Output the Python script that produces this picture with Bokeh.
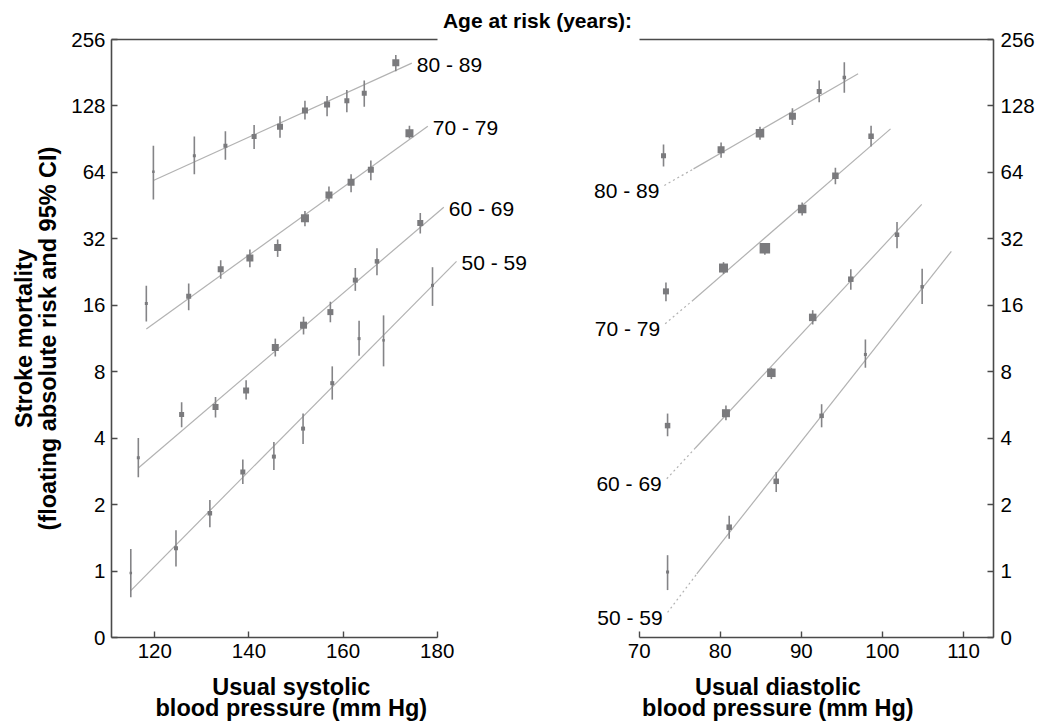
import math
from bokeh.plotting import figure
from bokeh.models import Range1d, LinearAxis, LogAxis, FixedTicker, Label
from bokeh.embed import file_html
from bokeh.resources import INLINE
from bokeh.core.properties import value

# ---------------- data ----------------
age_groups = ["50 - 59", "60 - 69", "70 - 79", "80 - 89"]

y_ticks = [0.5, 1, 2, 4, 8, 16, 32, 64, 128, 256]
y_tick_labels = ["0", "1", "2", "4", "8", "16", "32", "64", "128", "256"]
sys_ticks = [120, 140, 160, 180]
dia_ticks = [70, 80, 90, 100, 110]

# systolic panel
sys50_x = [114.9, 124.5, 131.7, 138.7, 145.3, 151.5, 157.7, 163.4, 168.6, 179.0]
sys50_risk = [0.98, 1.27, 1.83, 2.81, 3.30, 4.42, 7.10, 11.3, 11.1, 19.7]
sys50_lo = [0.76, 1.05, 1.58, 2.48, 2.87, 3.76, 5.98, 9.45, 8.46, 15.9]
sys50_hi = [1.26, 1.53, 2.10, 3.20, 3.84, 5.17, 8.46, 13.6, 14.4, 23.8]
sys50_box = [2.5, 4, 4.5, 5, 4, 4, 4, 3, 2.5, 3]

sys60_x = [116.5, 125.7, 132.9, 139.4, 145.6, 151.6, 157.3, 162.6, 167.2, 176.4]
sys60_risk = [3.26, 5.12, 5.53, 6.58, 10.3, 13.0, 14.9, 20.8, 25.3, 37.7]
sys60_lo = [2.66, 4.48, 4.96, 5.98, 9.38, 11.8, 13.4, 18.6, 21.9, 33.8]
sys60_hi = [4.01, 5.82, 6.15, 7.31, 11.3, 14.2, 16.6, 23.6, 29.0, 41.9]
sys60_box = [3, 5, 6, 6, 7, 7, 6, 5, 4.5, 6]

sys70_x = [118.2, 127.2, 134.0, 140.2, 146.1, 151.9, 157.0, 161.7, 165.9, 174.1]
sys70_risk = [16.3, 17.6, 23.3, 26.2, 29.2, 39.7, 50.6, 57.7, 65.8, 96.3]
sys70_lo = [13.5, 15.2, 21.1, 23.8, 26.5, 36.5, 47.2, 52.0, 58.9, 91.1]
sys70_hi = [19.6, 20.1, 25.6, 28.6, 31.8, 42.8, 55.3, 62.7, 72.5, 104]
sys70_box = [3, 5, 6, 7, 7, 8, 7, 7, 6, 8]

sys80_x = [119.7, 128.4, 135.0, 141.1, 146.6, 151.9, 156.6, 160.8, 164.5, 171.2]
sys80_risk = [64.4, 76.1, 84.4, 93.0, 103, 122, 130, 135, 146, 201]
sys80_lo = [48.2, 62.7, 73.0, 81.6, 91.8, 111, 115, 120, 127, 184]
sys80_hi = [84.4, 93.1, 98.4, 105, 115, 135, 142, 151, 167, 218]
sys80_box = [2.5, 3, 4, 5, 6, 6, 6, 5, 5, 7]

# fitted lines (start / end) per age group, systolic
sys_fit_x0 = [114.9, 116.5, 118.2, 119.7]
sys_fit_y0 = [0.816, 2.93, 12.5, 58.8]
sys_fit_x1 = [184.1, 181.4, 178.0, 174.6]
sys_fit_y1 = [25.3, 44.5, 103.6, 200]

# diastolic panel
dia50_x = [73.5, 81.1, 86.9, 92.5, 97.9, 104.9]
dia50_risk = [0.99, 1.58, 2.55, 5.05, 9.58, 19.4]
dia50_lo = [0.82, 1.40, 2.28, 4.48, 8.34, 16.2]
dia50_hi = [1.18, 1.78, 2.81, 5.70, 11.2, 23.4]
dia50_box = [3, 5.5, 5.5, 4.5, 3, 3.5]

dia60_x = [73.5, 80.7, 86.3, 91.4, 96.1, 101.8]
dia60_risk = [4.56, 5.19, 7.91, 14.1, 21.0, 33.4]
dia60_lo = [4.08, 4.82, 7.41, 13.1, 18.8, 29.0]
dia60_hi = [5.17, 5.62, 8.34, 15.2, 23.3, 38.1]
dia60_box = [5.5, 8, 8.5, 7.5, 5.5, 4.5]

dia70_x = [73.3, 80.4, 85.5, 90.1, 94.2, 98.6]
dia70_risk = [18.5, 23.6, 29.0, 43.7, 61.8, 93.4]
dia70_lo = [16.7, 22.2, 27.1, 40.8, 56.5, 83.9]
dia70_hi = [20.3, 25.1, 30.5, 46.8, 67.2, 104]
dia70_box = [6, 9, 10.5, 8.5, 6.5, 5.5]

dia80_x = [73.0, 80.1, 84.9, 88.9, 92.2, 95.3]
dia80_risk = [76.1, 81.0, 96.3, 115, 149, 172]
dia80_lo = [68.1, 74.5, 89.9, 105, 133, 147]
dia80_hi = [85.6, 87.4, 103, 125, 167, 202]
dia80_box = [5, 7, 8.5, 7, 5, 3.5]

# fitted lines, diastolic: dashed start -> solid start -> end
dia_fit_x0 = [73.5, 73.4, 73.2, 73.1]
dia_fit_y0 = [0.65, 2.62, 13.2, 55.8]
dia_fit_xm = [77.1, 76.9, 76.5, 76.7]
dia_fit_ym = [0.97, 3.60, 16.7, 66.4]
dia_fit_x1 = [108.5, 104.85, 101.0, 97.0]
dia_fit_y1 = [28.1, 45.8, 100.8, 179]

# ---------------- layout / style ----------------
W, H = 1038, 721
# pixel geometry of the two panels (frame covers the whole canvas)
SYS_REF_PX, SYS_REF_V, SYS_PX = 154.3, 120.0, 4.707    # px of 120 mmHg, px per mmHg
DIA_REF_PX, DIA_REF_V, DIA_PX = 638.7, 70.0, 8.1075     # px of 70 mmHg
Y_TOP_PX, Y_BOT_PX = 39.0, 637.0                        # px of 256 and of "0"
PX_PER_DOUBLING = (Y_BOT_PX - Y_TOP_PX) / 9.0


def sys_at(px):
    return SYS_REF_V + (px - SYS_REF_PX) / SYS_PX


def dia_at(px):
    return DIA_REF_V + (px - DIA_REF_PX) / DIA_PX


def y_at(py):
    return 256 * 2 ** ((Y_TOP_PX - py) / PX_PER_DOUBLING)


SYS_LEFT = sys_at(111)       # left panel axis origin
DIA_RIGHT = dia_at(993)      # right panel y-axis position

FONT = "Liberation Sans"
AX = "#4a4a4a"
MARK = "#7a7a7d"
ERR = "#848487"
FIT = "#b2b2b2"

p = figure(width=W, height=H, output_backend="svg", toolbar_location=None,
           x_range=Range1d(sys_at(0), sys_at(W)), y_range=Range1d(y_at(H), y_at(0)),
           y_axis_type="log", x_axis_location=None, y_axis_location=None,
           min_border=0, min_border_left=0, min_border_right=0,
           min_border_top=0, min_border_bottom=0)
p.extra_x_ranges = {"dia": Range1d(dia_at(0), dia_at(W))}
p.grid.visible = False
p.outline_line_color = None
p.background_fill_color = "white"
p.border_fill_color = "white"

overrides = {float(t): l for t, l in zip(y_ticks, y_tick_labels)}


def style(ax, standoff):
    ax.axis_line_color = AX
    ax.axis_line_width = 1.6
    ax.major_tick_line_color = AX
    ax.major_tick_line_width = 1.4
    ax.major_tick_in = 6
    ax.major_tick_out = 0
    ax.minor_tick_line_color = None
    ax.major_label_text_font = FONT
    ax.major_label_text_font_size = "20.5px"
    ax.major_label_text_color = "black"
    ax.major_label_standoff = standoff


ly = LogAxis(ticker=FixedTicker(ticks=y_ticks), major_label_overrides=overrides,
             bounds=(0.5, 256), fixed_location=SYS_LEFT)
style(ly, 6)
p.add_layout(ly, "left")

ry = LogAxis(ticker=FixedTicker(ticks=y_ticks), major_label_overrides=overrides,
             bounds=(0.5, 256), fixed_location=DIA_RIGHT, x_range_name="dia")
style(ry, 7)
p.add_layout(ry, "right")

bx = LinearAxis(ticker=FixedTicker(ticks=sys_ticks), bounds=(SYS_LEFT, 180),
                fixed_location=0.5)
style(bx, 6)
p.add_layout(bx, "below")

dx = LinearAxis(x_range_name="dia", ticker=FixedTicker(ticks=dia_ticks),
                bounds=(70, DIA_RIGHT), fixed_location=0.5)
style(dx, 6)
p.add_layout(dx, "below")

for rng, bnd in ((None, (SYS_LEFT, 180)), ("dia", (70, DIA_RIGHT))):
    kw = {"x_range_name": rng} if rng else {}
    top = LinearAxis(ticker=FixedTicker(ticks=[]), bounds=bnd, fixed_location=256, **kw)
    top.axis_line_color = AX
    top.axis_line_width = 1.6
    top.major_tick_line_color = None
    top.minor_tick_line_color = None
    top.major_label_text_font_size = "0px"
    p.add_layout(top, "above")

# ---------------- systolic marks ----------------
sys_series = [
    (sys50_x, sys50_risk, sys50_lo, sys50_hi, sys50_box),
    (sys60_x, sys60_risk, sys60_lo, sys60_hi, sys60_box),
    (sys70_x, sys70_risk, sys70_lo, sys70_hi, sys70_box),
    (sys80_x, sys80_risk, sys80_lo, sys80_hi, sys80_box),
]
for i, (xs, rs, lo, hi, bx_) in enumerate(sys_series):
    p.line([sys_fit_x0[i], sys_fit_x1[i]], [sys_fit_y0[i], sys_fit_y1[i]],
           line_color=FIT, line_width=1.2)
    p.segment(x0=xs, y0=lo, x1=xs, y1=hi, line_color=ERR, line_width=1.6)
    p.scatter(x=xs, y=rs, size=bx_, marker="square", fill_color=MARK, line_color=None)
    p.text(x=[sys_fit_x1[i]], y=[sys_fit_y1[i]], text=[age_groups[i]],
           text_font=value(FONT), text_font_size="21px", text_color="black",
           text_baseline="middle", text_align="left", x_offset=5, y_offset=1)

# ---------------- diastolic marks ----------------
dia_series = [
    (dia50_x, dia50_risk, dia50_lo, dia50_hi, dia50_box),
    (dia60_x, dia60_risk, dia60_lo, dia60_hi, dia60_box),
    (dia70_x, dia70_risk, dia70_lo, dia70_hi, dia70_box),
    (dia80_x, dia80_risk, dia80_lo, dia80_hi, dia80_box),
]
for i, (xs, rs, lo, hi, bx_) in enumerate(dia_series):
    p.line([dia_fit_x0[i], dia_fit_xm[i]], [dia_fit_y0[i], dia_fit_ym[i]],
           line_color=FIT, line_width=1.2, line_dash="2 3", x_range_name="dia")
    p.line([dia_fit_xm[i], dia_fit_x1[i]], [dia_fit_ym[i], dia_fit_y1[i]],
           line_color=FIT, line_width=1.2, x_range_name="dia")
    p.segment(x0=xs, y0=lo, x1=xs, y1=hi, line_color=ERR, line_width=1.6,
              x_range_name="dia")
    p.scatter(x=xs, y=rs, size=bx_, marker="square", fill_color=MARK,
              line_color=None, x_range_name="dia")
    p.text(x=[dia_fit_x0[i]], y=[dia_fit_y0[i]], text=[age_groups[i]],
           text_font=value(FONT), text_font_size="21px", text_color="black",
           text_baseline="middle", text_align="right", x_offset=-5, y_offset=5,
           x_range_name="dia")


# ---------------- titles (positioned by their centres) ----------------
def label(text, x, py, size, rng=None, angle=0.0):
    kw = {"x_range_name": rng} if rng else {}
    lab = Label(x=x, y=y_at(py), text=text, text_align="center",
                text_baseline="middle", text_font=FONT, text_font_style="bold",
                text_font_size=size, text_color="black", angle=angle, **kw)
    p.add_layout(lab)


label("Age at risk (years):", sys_at(537), 20, "21px")
label("Usual systolic", 149, 686, "23.5px")
label("blood pressure (mm Hg)", 149, 707.5, "23.5px")
label("Usual diastolic", 87.1, 686, "23.5px", "dia")
label("blood pressure (mm Hg)", 87.1, 707.5, "23.5px", "dia")
label("Stroke mortality", sys_at(23), 338, "23.5px", angle=math.pi / 2)
label("(floating absolute risk and 95% CI)", sys_at(47), 338, "23.5px",
      angle=math.pi / 2)

open("out.html", "w").write(file_html(p, INLINE))
